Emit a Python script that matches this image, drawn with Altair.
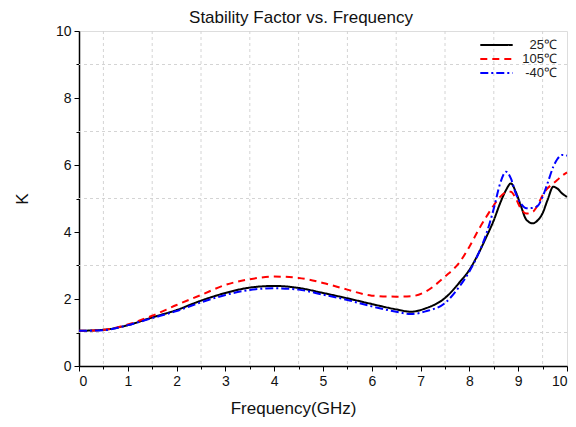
import altair as alt
import pandas as pd

freq = [0, 0.5, 1, 1.5, 2, 2.5, 3, 3.5, 4, 4.5, 5, 5.5, 6, 6.5, 6.8, 7.1, 7.5, 7.8,
        8.0, 8.2, 8.35, 8.5, 8.63, 8.75, 8.85, 8.95, 9.05, 9.17, 9.3, 9.4, 9.5, 9.6,
        9.72, 9.8, 9.9, 10.0]

k_25 = [1.05, 1.08, 1.22, 1.45, 1.67, 1.95, 2.18, 2.34, 2.39, 2.33, 2.18, 2.02, 1.85,
        1.69, 1.62, 1.72, 2.03, 2.50, 2.87, 3.40, 3.86, 4.35, 4.86, 5.25, 5.45, 5.20,
        4.80, 4.36, 4.26, 4.35, 4.56, 4.95, 5.35, 5.30, 5.15, 5.05]

k_105 = [1.05, 1.08, 1.24, 1.50, 1.82, 2.12, 2.42, 2.59, 2.67, 2.63, 2.48, 2.28, 2.10,
         2.07, 2.08, 2.22, 2.67, 3.10, 3.56, 4.10, 4.46, 4.80, 5.05, 5.18, 5.20, 5.00,
         4.71, 4.55, 4.60, 4.80, 5.10, 5.30, 5.45, 5.55, 5.68, 5.78]

k_m40 = [1.05, 1.07, 1.22, 1.43, 1.64, 1.90, 2.12, 2.27, 2.32, 2.28, 2.13, 1.97, 1.78,
         1.62, 1.55, 1.63, 1.88, 2.38, 2.82, 3.40, 3.96, 4.70, 5.45, 5.80, 5.60, 5.15,
         4.86, 4.71, 4.72, 4.78, 5.05, 5.45, 5.95, 6.17, 6.30, 6.28]

series_names = ["25\u2103", "105\u2103", "-40\u2103"]
series_colors = ["#000000", "#ff0000", "#0000ff"]
series_dash = [[1, 0], [7, 5], [8, 3, 2, 3]]

x_grid = [0.5, 1.5, 2.5, 3.5, 4.5, 5.5, 6.5, 7.5, 8.5, 9.5]
y_grid = [1, 3, 5, 7, 9]

x_ticks = [i * 0.5 for i in range(21)]
y_ticks = list(range(0, 11))

rows = []
for name, vals in zip(series_names, [k_25, k_105, k_m40]):
    for f, v in zip(freq, vals):
        rows.append({"Frequency": f, "K": v, "Series": name})
df = pd.DataFrame(rows)

FONT = "Liberation Sans"
minor_x = "datum.value % 1 != 0"
minor_y = "datum.value % 2 != 0"

x_scale = alt.Scale(domain=[0, 10], nice=False)
y_scale = alt.Scale(domain=[0, 10], nice=False)

x_axis = alt.Axis(values=x_ticks,
                  labelExpr="datum.value % 1 == 0 ? format(datum.value, 'd') : ''",
                  title="Frequency(GHz)",
                  tickSize={"condition": {"test": minor_x, "value": 3}, "value": 5},
                  grid=False,
                  domainColor="black", tickColor="black", domainWidth=1.5,
                  labelFont=FONT, labelFontSize=14, labelColor="#111",
                  labelPadding=3,
                  titleFont=FONT, titleFontSize=17, titleFontWeight="normal",
                  titleColor="#111", titlePadding=12, titleX=214)

y_axis = alt.Axis(values=y_ticks,
                  labelExpr="datum.value % 2 == 0 ? format(datum.value, 'd') : ''",
                  title="K",
                  tickSize={"condition": {"test": minor_y, "value": 3}, "value": 5},
                  grid=False,
                  domainColor="black", tickColor="black", domainWidth=1.5,
                  labelFont=FONT, labelFontSize=14, labelColor="#111",
                  labelPadding=3,
                  titleFont=FONT, titleFontSize=17, titleFontWeight="normal",
                  titleColor="#111", titlePadding=24)

legend = alt.Legend(title=None, orient="none", legendX=400, legendY=8,
                    symbolType="stroke", symbolSize=1050, clipHeight=12,
                    symbolStrokeWidth=2, labelFont=FONT,
                    labelFontSize=13, labelColor="#222", labelAlign="right",
                    labelOffset=43, rowPadding=1)

vgrid = alt.Chart(pd.DataFrame({"g": x_grid})).mark_rule(
    color="#d4d4d4", strokeDash=[3, 3], strokeWidth=1
).encode(x=alt.X("g:Q", scale=x_scale, axis=x_axis))

hgrid = alt.Chart(pd.DataFrame({"g": y_grid})).mark_rule(
    color="#d4d4d4", strokeDash=[3, 3], strokeWidth=1
).encode(y=alt.Y("g:Q", scale=y_scale, axis=y_axis))

lines = alt.Chart(df).mark_line(strokeWidth=2, interpolate="monotone").encode(
    x=alt.X("Frequency:Q", scale=x_scale, axis=x_axis),
    y=alt.Y("K:Q", scale=y_scale, axis=y_axis),
    color=alt.Color("Series:N",
                    scale=alt.Scale(domain=series_names, range=series_colors),
                    legend=legend),
    strokeDash=alt.StrokeDash("Series:N",
                              scale=alt.Scale(domain=series_names, range=series_dash),
                              legend=legend),
)

chart = alt.layer(vgrid, hgrid, lines).properties(
    width=488,
    height=335,
    title=alt.TitleParams("Stability Factor vs. Frequency", font=FONT, fontSize=17,
                          fontWeight="normal", color="#111", anchor="middle", dx=-22,
                          dy=9, offset=6),
    autosize=alt.AutoSizeParams(type="none"),
    padding={"left": 79, "top": 31, "right": 9, "bottom": 61},
).configure_view(
    stroke="#333", strokeWidth=1.5
).configure(background="white")

chart.save("out.html", embed_options={"renderer": "svg", "actions": False})
